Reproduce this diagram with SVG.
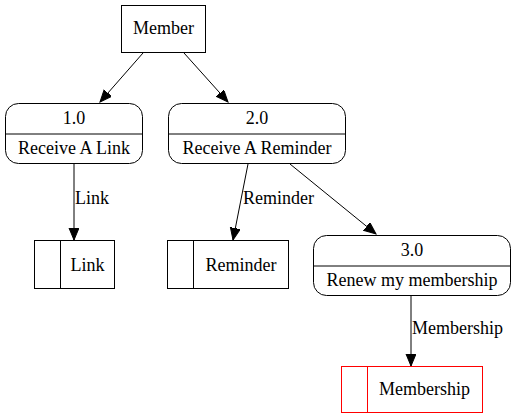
<svg xmlns="http://www.w3.org/2000/svg" width="515" height="419" viewBox="0 0 515 419">
<style>
text{font-size:18px;fill:#000}
.c{text-anchor:middle}
.s{fill:#fff;stroke:#000;stroke-width:1}
.r{fill:#fff;stroke:#ff0000;stroke-width:1}
.e{fill:none;stroke:#000;stroke-width:1;marker-end:url(#ah)}
</style>
<defs>
<marker id="ah" markerUnits="userSpaceOnUse" markerWidth="14" markerHeight="12" refX="12" refY="5" orient="auto">
<path d="M0,0 L12,5 L0,10 z" fill="#000" stroke="#000"/>
</marker>
</defs>
<rect width="515" height="419" fill="#fff"/>
<g font-family="Liberation Serif, DejaVu Serif, serif">
<g id="connectors">
<line class="e" x1="143" y1="53" x2="100" y2="102"/>
<line class="e" x1="184" y1="53" x2="228" y2="102"/>
<line class="e" x1="74" y1="164" x2="74" y2="240"/>
<text x="75" y="204">Link</text>
<line class="e" x1="248" y1="164" x2="233" y2="240"/>
<text x="243" y="204">Reminder</text>
<line class="e" x1="290" y1="164" x2="376" y2="234"/>
<line class="e" x1="411" y1="296" x2="411" y2="366"/>
<text x="412" y="334">Membership</text>
</g>
<g id="member">
<rect class="s" x="121.5" y="5.5" width="84" height="47"/>
<text class="c" x="163.5" y="34">Member</text>
</g>
<g id="p1">
<rect class="s" x="5.5" y="103.5" width="137" height="60" rx="13"/>
<line x1="5.5" y1="134" x2="142.5" y2="134" stroke="#000"/>
<text class="c" x="74" y="124">1.0</text>
<text class="c" x="74" y="154">Receive A Link</text>
</g>
<g id="p2">
<rect class="s" x="168.5" y="103.5" width="177" height="60" rx="13"/>
<line x1="168.5" y1="134" x2="345.5" y2="134" stroke="#000"/>
<text class="c" x="257" y="124">2.0</text>
<text class="c" x="257" y="154">Receive A Reminder</text>
</g>
<g id="p3">
<rect class="s" x="313.5" y="235.5" width="197" height="60" rx="13"/>
<line x1="313.5" y1="266" x2="510.5" y2="266" stroke="#000"/>
<text class="c" x="412" y="256">3.0</text>
<text class="c" x="412" y="286">Renew my membership</text>
</g>
<g id="link">
<rect class="s" x="34.5" y="240.5" width="80" height="48"/>
<line x1="60.5" y1="240.5" x2="60.5" y2="288.5" stroke="#000"/>
<text class="c" x="87.5" y="271">Link</text>
</g>
<g id="reminder">
<rect class="s" x="167.5" y="240.5" width="121" height="48"/>
<line x1="193.5" y1="240.5" x2="193.5" y2="288.5" stroke="#000"/>
<text class="c" x="241" y="271">Reminder</text>
</g>
<g id="membership">
<rect class="r" x="341.5" y="366.5" width="141" height="46"/>
<line x1="367.5" y1="366.5" x2="367.5" y2="412.5" stroke="#ff0000"/>
<text class="c" x="424.5" y="395">Membership</text>
</g>
</g>
</svg>
